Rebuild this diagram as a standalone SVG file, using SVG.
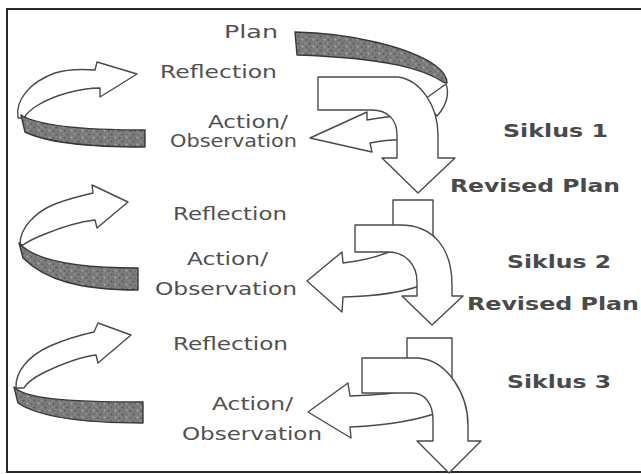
<svg xmlns="http://www.w3.org/2000/svg" width="641" height="474" viewBox="0 0 641 474">
<style>
.w{fill:#fff;stroke:#4a4a4a;stroke-width:1.4;stroke-linejoin:round}
.b{fill:url(#tex);stroke:#383838;stroke-width:1.4;stroke-linejoin:round}
.t{font-family:"DejaVu Sans",Verdana,sans-serif;font-size:18px;fill:#505050}
.s{font-family:"DejaVu Sans",Verdana,sans-serif;font-size:17px;font-weight:bold;fill:#4a4a4a}
</style>
<defs>
<pattern id="tex" width="11" height="7" patternUnits="userSpaceOnUse">
<rect width="11" height="7" fill="#7c7c7c"/>
<circle cx="1.5" cy="1.5" r="1.1" fill="#5a5a5a"/>
<circle cx="5.5" cy="4.5" r="1" fill="#a8a8a8"/>
<circle cx="8.5" cy="1.2" r="0.8" fill="#9a9a9a"/>
<circle cx="3" cy="5.5" r="0.7" fill="#606060"/>
<circle cx="9.5" cy="5" r="0.9" fill="#5c5c5c"/>
<circle cx="6.5" cy="1.5" r="0.6" fill="#666"/>
</pattern>
</defs>
<rect width="641" height="474" fill="#fff"/>
<rect x="7" y="9" width="650" height="463" fill="none" stroke="#2a2a2a" stroke-width="2"/>

<g id="connectors">
<!-- cycle 1 left -->
<path class="w" d="M18,118 C15,100 30,82 55,73 C68,69 82,69 95,70 L97,62 L137,74 L100,97 L100,88 C80,88 55,95 38,105 C30,110 26,114 24,118 Z"/>
<path class="b" d="M21,115 C35,124 70,130 145,130 L145,147 C80,147 45,142 25,132 Z"/>
<!-- cycle 1 right -->
<path class="b" d="M295,32 C350,33 410,47 436,66 C444,72 447,78 447,83 L443,82 C425,70 390,58 297,55 Z"/>
<path class="w" d="M425,99 L446,84 C449,92 448,104 437,116 L430,108 Z"/>
<path class="w" d="M310,138 L367,112 L367,120 C378,118 390,116 402,116 L404,140 C392,139 381,141 370,143 L372,152 Z"/>
<path class="w" d="M318,77 L398,77 C420,80 438,105 438,135 L438,158 L455,158 L418,193 L382,158 L397,158 L397,135 C397,120 388,110 372,110 L318,110 Z"/>
<!-- cycle 2 left -->
<path class="w" d="M20,244 C20,228 35,212 55,204 C68,199 80,196 93,193 L92,185 L128,202 L97,228 L95,220 C78,222 62,227 45,234 C35,238 27,242 23,245 Z"/>
<path class="b" d="M19,243 C30,256 60,268 138,268 L138,290 C80,290 45,280 23,258 Z"/>
<!-- cycle 2 right -->
<rect class="w" x="393" y="200" width="40" height="45"/>
<path class="w" d="M307,281 L342,252 L343,263 C360,261 380,257 398,248 L425,270 L425,284 C410,290 385,296 343,297 L342,312 Z"/>
<path class="w" d="M355,225 L400,225 C435,225 452,250 452,285 L452,296 L463,296 L432,325 L402,296 L417,296 L417,282 C417,264 405,252 388,252 L355,252 Z"/>
<!-- cycle 3 left -->
<path class="w" d="M16,388 C15,372 28,356 50,346 C64,340 80,335 94,332 L98,323 L131,335 L98,363 L96,355 C80,357 62,364 45,372 C35,377 27,382 24,388 Z"/>
<path class="b" d="M14,387 C25,398 60,402 143,402 L143,423 C85,423 40,418 18,403 Z"/>
<!-- cycle 3 right -->
<rect class="w" x="407" y="338" width="45" height="45"/>
<path class="w" d="M308,412 L348,383 L350,396 C375,395 395,394 410,390 L445,400 L445,410 C430,416 400,425 350,427 L351,438 Z"/>
<path class="w" d="M362,358 L418,358 C448,360 468,395 468,425 L468,441 L481,441 L449,473 L417,441 L433,441 L433,420 C433,404 425,393 412,393 L362,393 Z"/>
</g>

<g id="plan"><text class="t" x="224" y="38" textLength="54" lengthAdjust="spacingAndGlyphs">Plan</text></g>
<g id="reflection-1"><text class="t" x="160" y="78" textLength="117" lengthAdjust="spacingAndGlyphs">Reflection</text></g>
<g id="action-1">
<text class="t" x="208" y="128" textLength="80" lengthAdjust="spacingAndGlyphs">Action/</text>
<text class="t" x="170" y="147" textLength="127" lengthAdjust="spacingAndGlyphs">Observation</text>
</g>
<g id="siklus-1"><text class="s" x="503" y="137" textLength="105" lengthAdjust="spacingAndGlyphs">Siklus 1</text></g>
<g id="revised-plan-1"><text class="s" x="450" y="192" style="font-size:18px" textLength="170" lengthAdjust="spacingAndGlyphs">Revised Plan</text></g>

<g id="reflection-2"><text class="t" x="173" y="220" textLength="114" lengthAdjust="spacingAndGlyphs">Reflection</text></g>
<g id="action-2">
<text class="t" x="187" y="265" textLength="81" lengthAdjust="spacingAndGlyphs">Action/</text>
<text class="t" x="155" y="295" textLength="142" lengthAdjust="spacingAndGlyphs">Observation</text>
</g>
<g id="siklus-2"><text class="s" x="507" y="268" textLength="104" lengthAdjust="spacingAndGlyphs">Siklus 2</text></g>
<g id="revised-plan-2"><text class="s" x="467" y="310" style="font-size:18px" textLength="172" lengthAdjust="spacingAndGlyphs">Revised Plan</text></g>

<g id="reflection-3"><text class="t" x="173" y="350" textLength="115" lengthAdjust="spacingAndGlyphs">Reflection</text></g>
<g id="action-3">
<text class="t" x="212" y="410" textLength="81" lengthAdjust="spacingAndGlyphs">Action/</text>
<text class="t" x="182" y="440" textLength="140" lengthAdjust="spacingAndGlyphs">Observation</text>
</g>
<g id="siklus-3"><text class="s" x="507" y="388" textLength="104" lengthAdjust="spacingAndGlyphs">Siklus 3</text></g>
</svg>
